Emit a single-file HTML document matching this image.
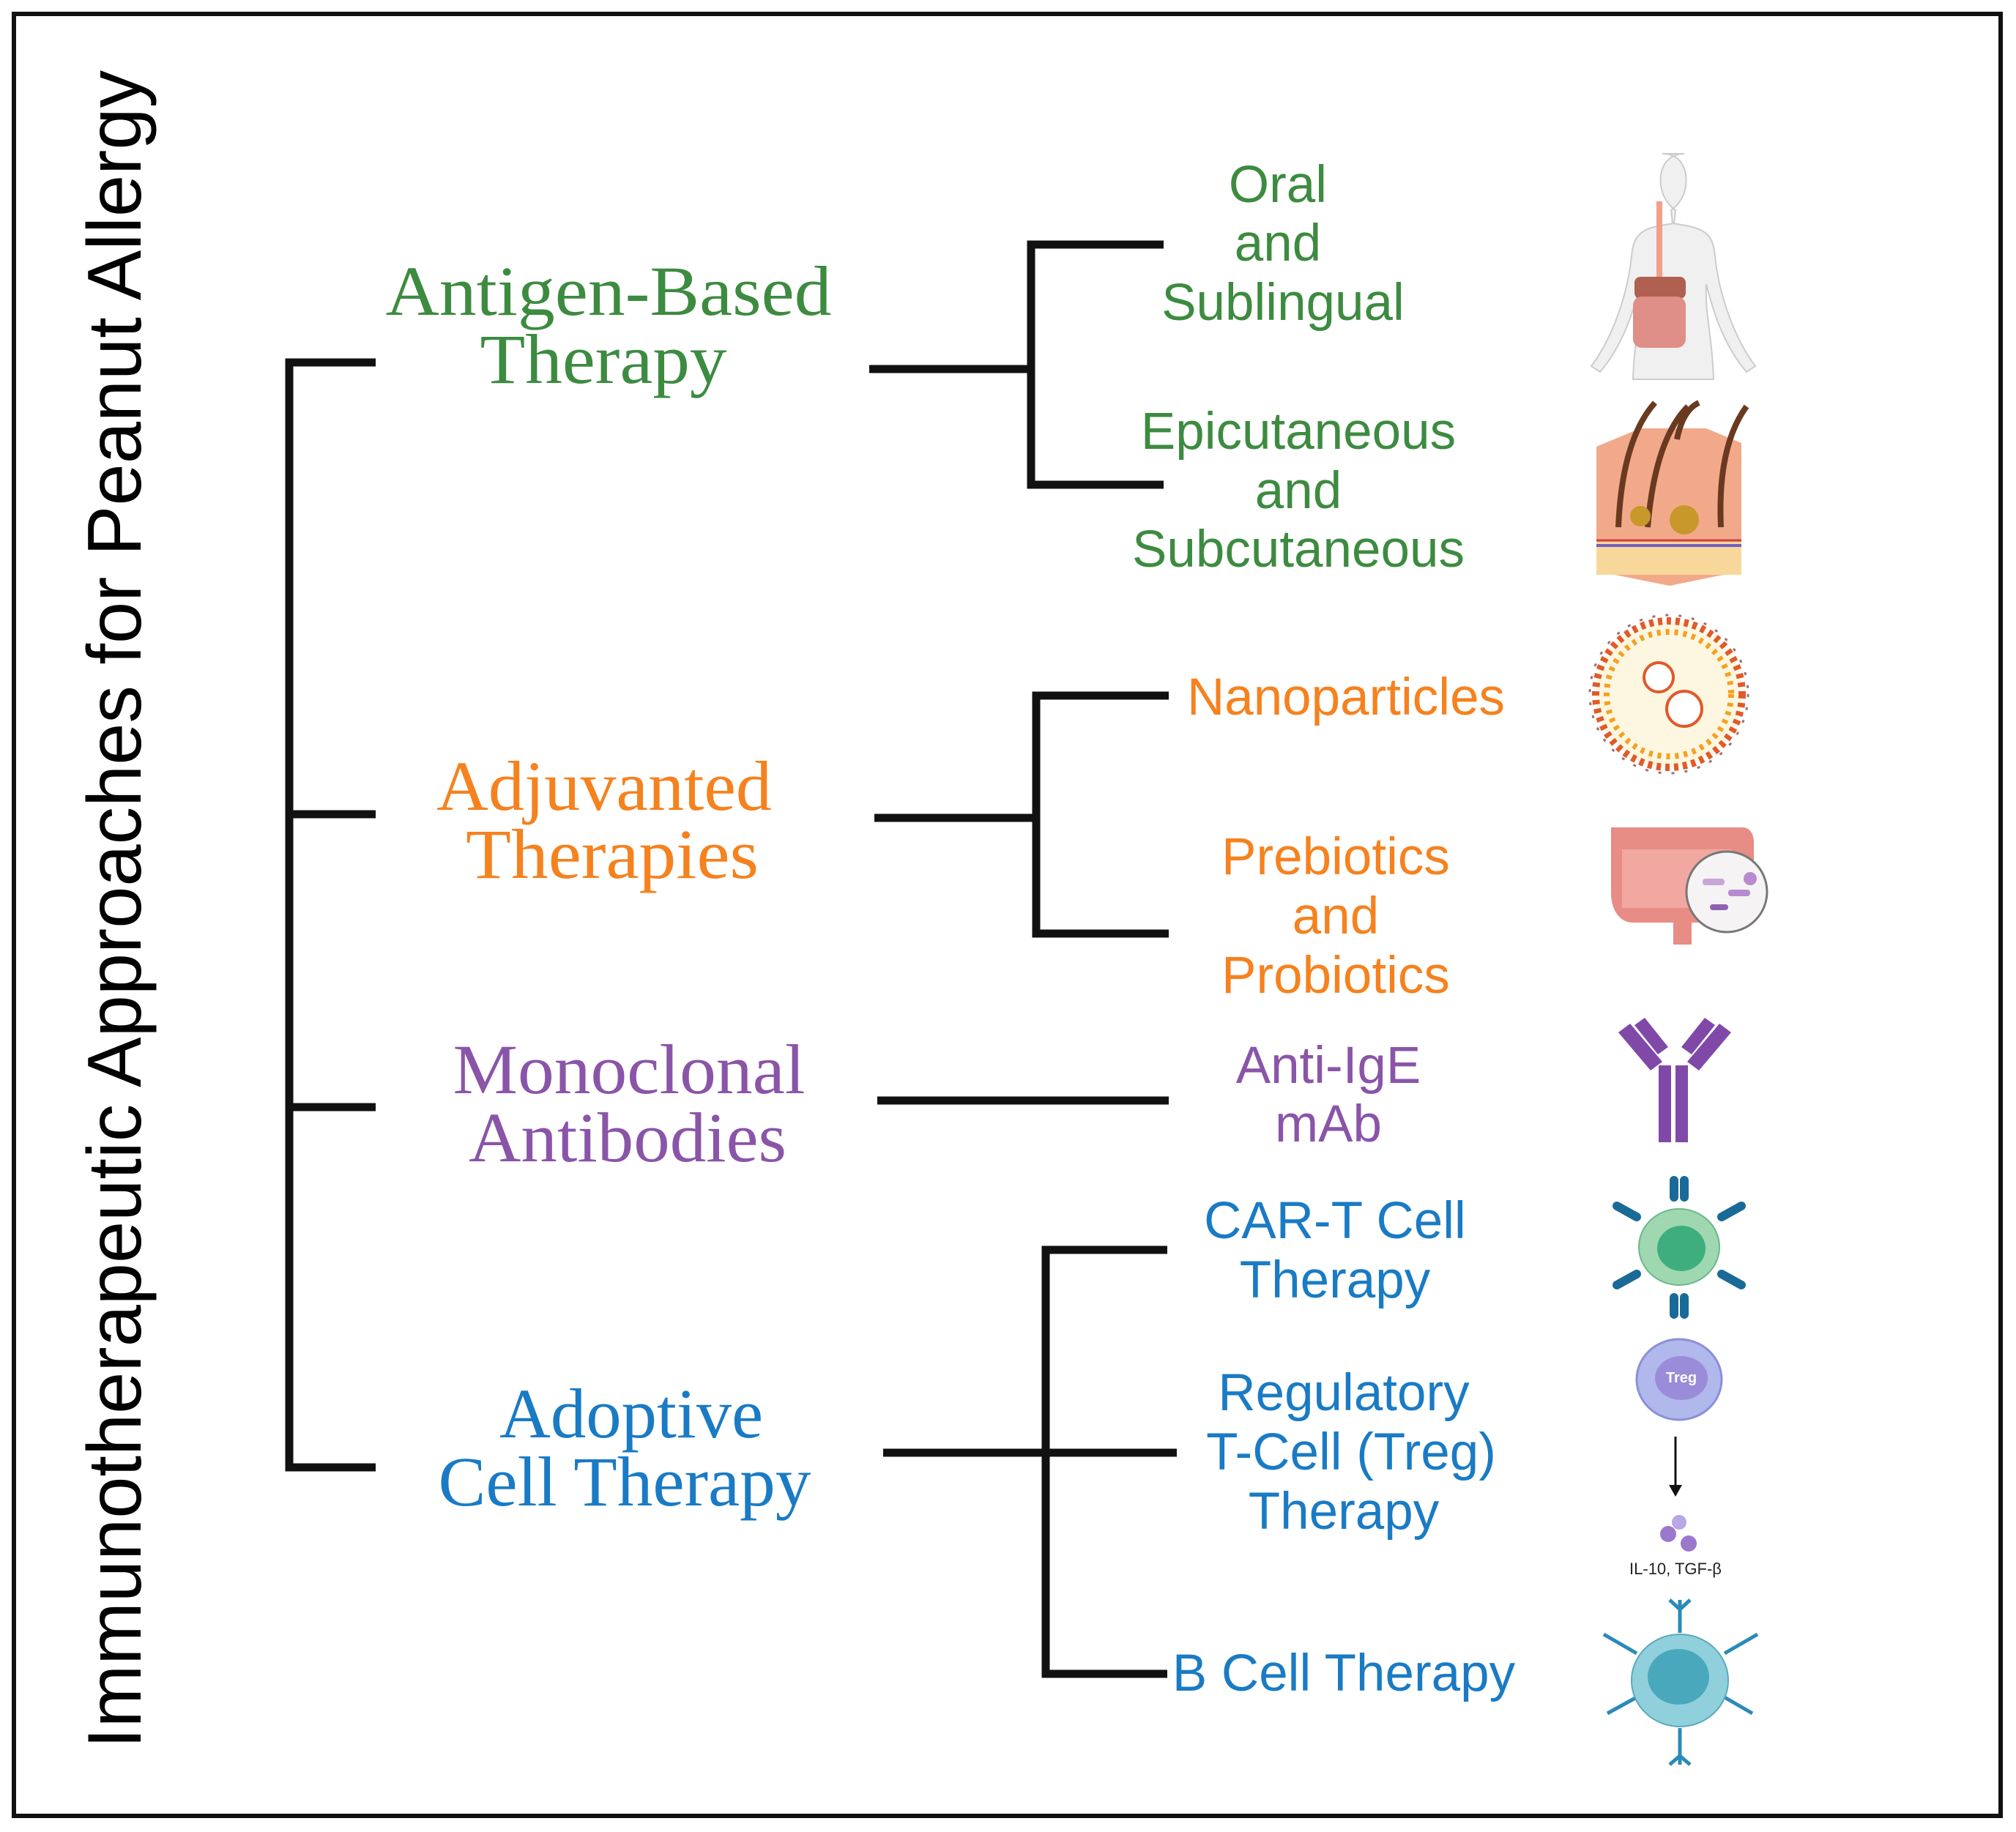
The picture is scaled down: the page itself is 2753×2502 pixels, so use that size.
<!DOCTYPE html>
<html><head><meta charset="utf-8"><style>
html,body{margin:0;padding:0;background:#fff}
svg{display:block}
.s{font-family:"Liberation Sans",sans-serif;font-size:71px;text-anchor:middle}
.r{font-family:"Liberation Serif",serif;font-size:96px;text-anchor:middle}
</style></head><body>
<svg width="2753" height="2502" viewBox="0 0 2753 2502" xmlns="http://www.w3.org/2000/svg">
<rect x="0" y="0" width="2753" height="2502" fill="#fff"/>
<rect x="19" y="19" width="2713" height="2461" fill="none" stroke="#111" stroke-width="6"/>
<text transform="translate(192,1242) rotate(-90)" font-family="Liberation Sans,sans-serif" font-size="104" text-anchor="middle" fill="#000" textLength="2292" lengthAdjust="spacingAndGlyphs">Immunotherapeutic Approaches for Peanut Allergy</text>
<g stroke="#111" stroke-width="11" fill="none" stroke-linecap="butt">
<polyline points="513,495 395,495 395,2004 513,2004"/>
<line x1="395" y1="1112" x2="513" y2="1112"/>
<line x1="395" y1="1512" x2="513" y2="1512"/>
<line x1="1187" y1="504" x2="1408" y2="504"/>
<polyline points="1589,334 1408,334 1408,662 1589,662"/>
<line x1="1194" y1="1117" x2="1415" y2="1117"/>
<polyline points="1596,950 1415,950 1415,1275 1596,1275"/>
<line x1="1198" y1="1503" x2="1596" y2="1503"/>
<line x1="1206" y1="1984" x2="1607" y2="1984"/>
<polyline points="1594,1707 1428,1707 1428,2286 1594,2286"/>
</g>
<g>
<text x="831" y="430" fill="#3d8b40" class="r" textLength="609" lengthAdjust="spacingAndGlyphs">Antigen-Based</text>
<text x="824" y="523" fill="#3d8b40" class="r" textLength="337" lengthAdjust="spacingAndGlyphs">Therapy</text>
<text x="825" y="1106" fill="#f5821f" class="r" textLength="458" lengthAdjust="spacingAndGlyphs">Adjuvanted</text>
<text x="836" y="1199" fill="#f5821f" class="r" textLength="400" lengthAdjust="spacingAndGlyphs">Therapies</text>
<text x="859" y="1493" fill="#8a55a8" class="r" textLength="481" lengthAdjust="spacingAndGlyphs">Monoclonal</text>
<text x="857" y="1586" fill="#8a55a8" class="r" textLength="434" lengthAdjust="spacingAndGlyphs">Antibodies</text>
<text x="862" y="1963" fill="#1a7bc4" class="r" textLength="360" lengthAdjust="spacingAndGlyphs">Adoptive</text>
<text x="853" y="2056" fill="#1a7bc4" class="r" textLength="509" lengthAdjust="spacingAndGlyphs">Cell Therapy</text>
</g>
<g fill="#3d8b40">
<text x="1745" y="276" class="s">Oral</text>
<text x="1745" y="356" class="s">and</text>
<text x="1752" y="437" class="s">Sublingual</text>
<text x="1773" y="613" class="s">Epicutaneous</text>
<text x="1773" y="694" class="s">and</text>
<text x="1773" y="774" class="s">Subcutaneous</text>
</g>
<g fill="#f5821f">
<text x="1838" y="976" class="s">Nanoparticles</text>
<text x="1824" y="1194" class="s">Prebiotics</text>
<text x="1824" y="1275" class="s">and</text>
<text x="1824" y="1356" class="s">Probiotics</text>
</g>
<g fill="#8a55a8">
<text x="1814" y="1479" class="s">Anti-IgE</text>
<text x="1814" y="1559" class="s">mAb</text>
</g>
<g fill="#1a7bc4">
<text x="1823" y="1691" class="s">CAR-T Cell</text>
<text x="1823" y="1772" class="s">Therapy</text>
<text x="1835" y="1926" class="s">Regulatory</text>
<text x="1845" y="2007" class="s">T-Cell (Treg)</text>
<text x="1835" y="2088" class="s">Therapy</text>
<text x="1835" y="2309" class="s">B Cell Therapy</text>
</g>
<!-- body -->
<g>
<path d="M2270,210 c25,0 35,20 32,45 c-3,18 -14,28 -20,32 l2,18 c40,6 55,10 58,45 c5,50 25,110 55,150 l-12,8 c-30,-35 -45,-80 -55,-120 c-2,40 8,70 10,130 l-110,0 c2,-60 12,-90 10,-130 c-10,40 -25,85 -55,120 l-12,-8 c30,-40 50,-100 55,-150 c3,-35 18,-39 58,-45 l2,-18 c-6,-4 -18,-16 -20,-34 c-3,-25 10,-43 32,-43z" fill="#f0f0f0" stroke="#ccc" stroke-width="2"/>
<rect x="2262" y="275" width="8" height="105" fill="#f2a08a"/>
<rect x="2232" y="378" width="70" height="30" rx="8" fill="#b06050"/>
<rect x="2230" y="405" width="72" height="70" rx="12" fill="#e08e88"/>
</g>
<!-- skin -->
<g>
<polygon points="2180,610 2240,585 2330,585 2378,605 2378,780 2280,800 2180,780" fill="#f2a98a"/>
<rect x="2180" y="740" width="198" height="45" fill="#f8d89a"/>
<line x1="2180" y1="745" x2="2378" y2="745" stroke="#7060c0" stroke-width="4"/>
<line x1="2180" y1="738" x2="2378" y2="738" stroke="#d04040" stroke-width="3"/>
<path d="M2210,720 q5,-120 50,-170 M2250,720 q10,-120 55,-165 M2350,720 q-5,-110 35,-165 M2290,600 q8,-40 30,-50" stroke="#6a3a20" stroke-width="8" fill="none"/>
<circle cx="2300" cy="710" r="20" fill="#c8982a"/>
<circle cx="2240" cy="705" r="14" fill="#c8982a"/>
</g>
<!-- nanoparticle -->
<g>
<circle cx="2279" cy="948" r="100" fill="#fdf6e0" stroke="#e05a2a" stroke-width="10" stroke-dasharray="6 6"/>
<circle cx="2279" cy="948" r="85" fill="none" stroke="#f5a020" stroke-width="8" stroke-dasharray="5 7"/>
<circle cx="2279" cy="948" r="108" fill="none" stroke="#a07070" stroke-width="3" stroke-dasharray="4 14"/>
<circle cx="2265" cy="925" r="20" fill="#fff" stroke="#e05a2a" stroke-width="4"/>
<circle cx="2300" cy="968" r="24" fill="#fff" stroke="#e05a2a" stroke-width="4"/>
</g>
<!-- intestine -->
<g>
<path d="M2200,1130 h180 c10,0 15,10 15,20 v80 c0,20 -20,30 -40,30 h-45 v30 h-25 v-30 h-55 c-20,0 -30,-20 -30,-40 v-70 c0,-12 0,-20 0,-20z" fill="#e88c86"/>
<path d="M2215,1160 h150 v80 h-150z" fill="#f0a8a0"/>
<circle cx="2358" cy="1218" r="55" fill="#f5f3f3" stroke="#777" stroke-width="3"/>
<rect x="2325" y="1200" width="30" height="9" rx="4" fill="#c8a6d8"/>
<rect x="2360" y="1215" width="30" height="9" rx="4" fill="#b88ad0"/>
<circle cx="2390" cy="1200" r="9" fill="#b88ad0"/>
<rect x="2335" y="1235" width="25" height="8" rx="4" fill="#9060b0"/>
</g>
<!-- antibody -->
<g fill="#8049a8">
<polygon points="2210,1410 2226,1398 2270,1450 2254,1462"/>
<polygon points="2232,1400 2246,1390 2278,1430 2264,1440"/>
<polygon points="2364,1410 2348,1398 2304,1450 2320,1462"/>
<polygon points="2342,1400 2328,1390 2296,1430 2310,1440"/>
<rect x="2265" y="1455" width="17" height="105"/>
<rect x="2288" y="1455" width="17" height="105"/>
</g>
<!-- CAR-T -->
<g>
<g stroke="#1a6a98" stroke-width="12" stroke-linecap="round" fill="none">
<line x1="2286" y1="1612" x2="2286" y2="1635"/><line x1="2300" y1="1612" x2="2300" y2="1635"/>
<line x1="2286" y1="1772" x2="2286" y2="1795"/><line x1="2300" y1="1772" x2="2300" y2="1795"/>
<line x1="2208" y1="1647" x2="2235" y2="1662"/><line x1="2378" y1="1647" x2="2351" y2="1662"/>
<line x1="2208" y1="1755" x2="2235" y2="1740"/><line x1="2378" y1="1755" x2="2351" y2="1740"/>
</g>
<ellipse cx="2293" cy="1703" rx="55" ry="52" fill="#9fd8b0" stroke="#6ab88a" stroke-width="2"/>
<ellipse cx="2296" cy="1705" rx="33" ry="31" fill="#3eae7e"/>
</g>
<!-- Treg -->
<g>
<ellipse cx="2293" cy="1884" rx="58" ry="55" fill="#b0b8ec" stroke="#8a90d8" stroke-width="3"/>
<ellipse cx="2296" cy="1882" rx="36" ry="30" fill="#9a8cd8"/>
<text x="2296" y="1888" font-family="Liberation Sans,sans-serif" font-weight="bold" font-size="20" fill="#fff" text-anchor="middle">Treg</text>
<line x1="2288" y1="1962" x2="2288" y2="2030" stroke="#111" stroke-width="3"/>
<polygon points="2279,2028 2297,2028 2288,2044" fill="#111"/>
<circle cx="2293" cy="2079" r="10" fill="#b9a6e4"/>
<circle cx="2278" cy="2095" r="11" fill="#9a78cc"/>
<circle cx="2306" cy="2108" r="11" fill="#9a78cc"/>
<text x="2288" y="2150" font-family="Liberation Sans,sans-serif" font-size="22" fill="#222" text-anchor="middle">IL-10, TGF-β</text>
</g>
<!-- B cell -->
<g>
<g stroke="#2a8ab8" stroke-width="5" fill="none">
<line x1="2294" y1="2185" x2="2294" y2="2230"/><line x1="2280" y1="2185" x2="2294" y2="2198"/><line x1="2308" y1="2185" x2="2294" y2="2198"/>
<line x1="2294" y1="2360" x2="2294" y2="2410"/><line x1="2280" y1="2410" x2="2294" y2="2398"/><line x1="2308" y1="2410" x2="2294" y2="2398"/>
<line x1="2190" y1="2232" x2="2235" y2="2258"/><line x1="2400" y1="2232" x2="2355" y2="2258"/>
<line x1="2195" y1="2340" x2="2235" y2="2318"/><line x1="2393" y1="2340" x2="2355" y2="2318"/>
</g>
<ellipse cx="2294" cy="2295" rx="66" ry="63" fill="#8fd0dc" stroke="#5aaab8" stroke-width="2"/>
<ellipse cx="2292" cy="2290" rx="42" ry="38" fill="#4aa8bd"/>
</g>
</svg>
</body></html>
